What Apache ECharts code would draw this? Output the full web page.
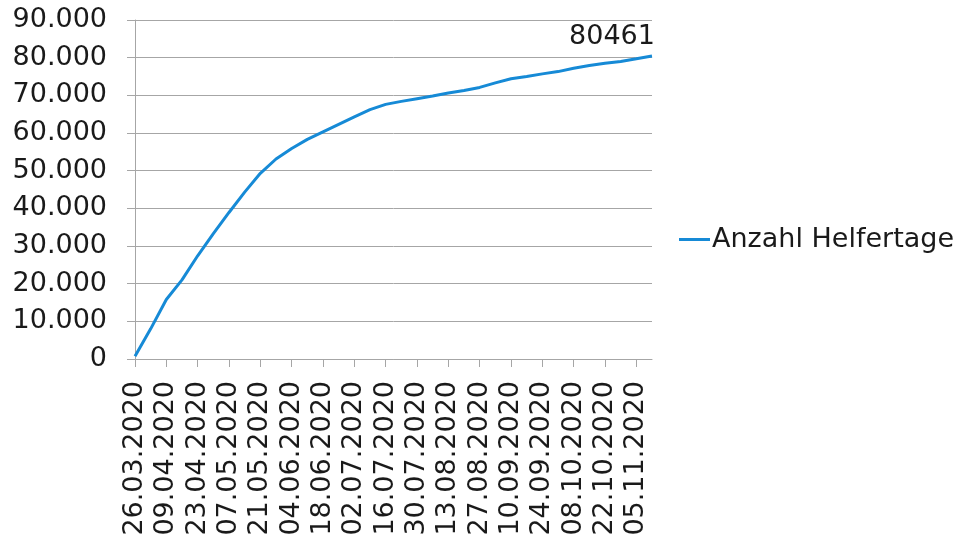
<!DOCTYPE html>
<html>
<head>
<meta charset="utf-8">
<script src="https://cdn.jsdelivr.net/npm/echarts@6/dist/echarts.min.js"></script>
<style>
  html, body { margin: 0; padding: 0; background: #ffffff; }
  #chart { width: 962px; height: 541px; }
</style>
</head>
<body>
<div id="chart"></div>
<script>
// Weekly dates (axis categories) – every second one is labelled
const dates = [
  '26.03.2020', '02.04.2020', '09.04.2020', '16.04.2020', '23.04.2020', '30.04.2020',
  '07.05.2020', '14.05.2020', '21.05.2020', '28.05.2020', '04.06.2020', '11.06.2020',
  '18.06.2020', '25.06.2020', '02.07.2020', '09.07.2020', '16.07.2020', '23.07.2020',
  '30.07.2020', '06.08.2020', '13.08.2020', '20.08.2020', '27.08.2020', '03.09.2020',
  '10.09.2020', '17.09.2020', '24.09.2020', '01.10.2020', '08.10.2020', '15.10.2020',
  '22.10.2020', '29.10.2020', '05.11.2020', '12.11.2020'
];

// Cumulative number of helper days
const helferTage = [
  700, 8000, 15800, 21000, 27400, 33300,
  38900, 44300, 49300, 53100, 55900, 58300,
  60300, 62300, 64300, 66200, 67600, 68400,
  69100, 69800, 70600, 71300, 72100, 73300,
  74400, 75000, 75700, 76300, 77200, 77900,
  78500, 79000, 79700, 80461
];

const seriesName = 'Anzahl Helfertage';
const yTicks = { min: 0, max: 90000, interval: 10000 };

const FONT = 'DejaVu Sans';
const FONT_SIZE = 27;
const lineColor = '#168ad6';
const gridColor = '#a6a6a6';
const textColor = '#1a1a1a';

// Only the final value carries a label
const seriesData = helferTage.map((v, i) => i === helferTage.length - 1
  ? { value: v, label: { show: true } }
  : v);

const chart = echarts.init(document.getElementById('chart'), null, { renderer: 'canvas' });

chart.setOption({
  animation: false,
  backgroundColor: '#ffffff',
  grid: { left: 135, right: 310, top: 20, bottom: 182, containLabel: false },
  legend: {
    data: [seriesName],
    left: 679,
    top: 226,
    padding: 0,
    icon: 'rect',
    itemWidth: 31,
    itemHeight: 3,
    textStyle: { fontFamily: FONT, fontSize: FONT_SIZE, color: textColor, padding: [0, 0, 0, -3] }
  },
  xAxis: {
    type: 'category',
    data: dates,
    boundaryGap: false,
    axisLine: { lineStyle: { color: gridColor, width: 1 } },
    axisTick: { show: true, interval: 1, length: 8, lineStyle: { color: gridColor } },
    axisLabel: {
      interval: 1,
      rotate: 90,
      margin: 22,
      fontFamily: FONT,
      fontSize: FONT_SIZE,
      color: textColor
    },
    splitLine: { show: false }
  },
  yAxis: {
    type: 'value',
    min: yTicks.min,
    max: yTicks.max,
    interval: yTicks.interval,
    axisLine: { show: true, lineStyle: { color: gridColor, width: 1 } },
    axisTick: { show: true, length: 8, lineStyle: { color: gridColor } },
    axisLabel: {
      margin: 28,
      fontFamily: FONT,
      fontSize: FONT_SIZE,
      color: textColor,
      formatter: v => v.toString().replace(/\B(?=(\d{3})+(?!\d))/g, '.')
    },
    splitLine: { show: true, lineStyle: { color: gridColor, width: 1 } }
  },
  series: [{
    name: seriesName,
    type: 'line',
    data: seriesData,
    showSymbol: true,
    symbol: 'circle',
    symbolSize: 0,
    lineStyle: { color: lineColor, width: 3 },
    itemStyle: { color: lineColor },
    label: {
      show: false,
      position: 'top',
      distance: 5,
      offset: [-40, 0],
      fontFamily: FONT,
      fontSize: FONT_SIZE,
      color: textColor
    }
  }]
});
</script>
</body>
</html>
